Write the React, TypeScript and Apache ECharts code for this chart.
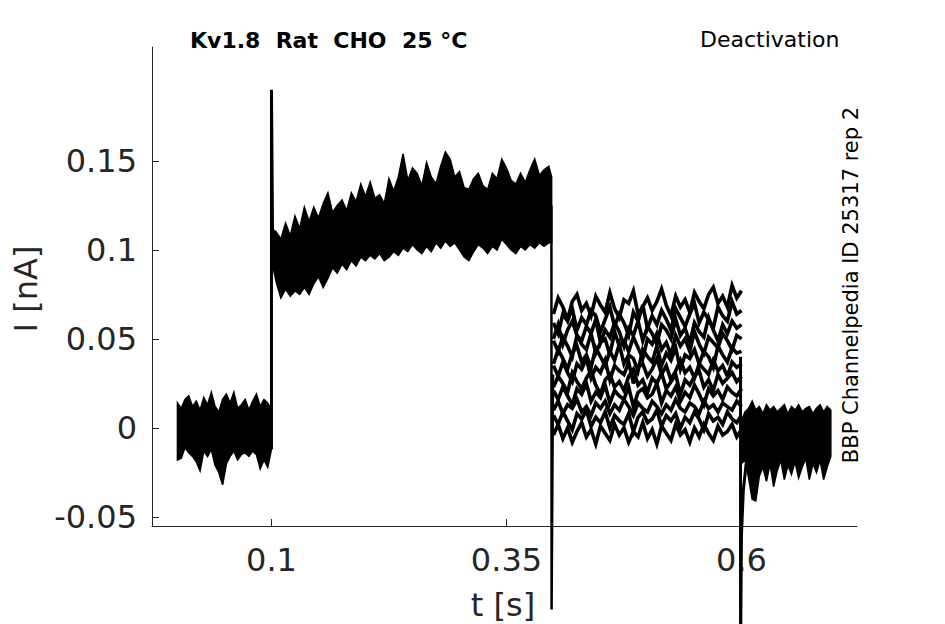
import React, { useEffect, useRef } from "react";
import * as echarts from "echarts";

// ---------- texts ----------
const TITLE = "Kv1.8  Rat  CHO  25 °C";
const PROTOCOL = "Deactivation";
const SOURCE = "BBP Channelpedia ID 25317 rep 2";
const X_NAME = "t [s]";
const Y_NAME = "I [nA]";

// ---------- axis ticks ----------
const xTicks = [0.1, 0.35, 0.6];
const yTicks = [-0.05, 0, 0.05, 0.1, 0.15];

// ---------- holding baseline (t = 0 .. 0.1, every 4 ms): envelope of all sweeps ----------
const baseStart = 0;
const baseStep = 0.004;
const baseUpper = [0.014, 0.011, 0.016, 0.018, 0.012, 0.015, 0.010, 0.017, 0.013, 0.020, 0.012, 0.009, 0.016,
  0.019, 0.014, 0.020, 0.011, 0.013, 0.016, 0.010, 0.015, 0.019, 0.012, 0.016, 0.014, 0.010];
const baseLower = [-0.018, -0.017, -0.011, -0.014, -0.016, -0.019, -0.024, -0.013, -0.016, -0.012, -0.021, -0.025,
  -0.032, -0.020, -0.016, -0.013, -0.018, -0.015, -0.014, -0.016, -0.013, -0.015, -0.023, -0.018, -0.022, -0.012];

// ---------- activation step (t = 0.1 .. 0.395 every 5 ms, then 0.398): envelope ----------
const actStart = 0.1;
const actStep = 0.005;
const actLast = 0.398;
const actUpper = [0.112, 0.110, 0.106, 0.115, 0.108, 0.119, 0.112, 0.124, 0.116, 0.124, 0.118, 0.126, 0.132, 0.121,
  0.125, 0.128, 0.122, 0.132, 0.127, 0.137, 0.130, 0.138, 0.129, 0.131, 0.126, 0.140, 0.133, 0.141, 0.154, 0.139,
  0.146, 0.143, 0.136, 0.149, 0.141, 0.137, 0.147, 0.155, 0.151, 0.141, 0.144, 0.135, 0.134, 0.140, 0.143, 0.136,
  0.134, 0.143, 0.140, 0.151, 0.146, 0.139, 0.137, 0.143, 0.138, 0.145, 0.151, 0.142, 0.145, 0.147, 0.141];
const actLower = [0.095, 0.082, 0.073, 0.078, 0.074, 0.077, 0.075, 0.079, 0.075, 0.081, 0.085, 0.079, 0.084, 0.090,
  0.087, 0.092, 0.089, 0.094, 0.091, 0.096, 0.094, 0.097, 0.095, 0.098, 0.094, 0.096, 0.099, 0.097, 0.101, 0.099,
  0.103, 0.100, 0.098, 0.102, 0.099, 0.104, 0.101, 0.105, 0.102, 0.104, 0.100, 0.096, 0.094, 0.099, 0.103, 0.101,
  0.098, 0.102, 0.100, 0.106, 0.103, 0.100, 0.098, 0.102, 0.100, 0.103, 0.101, 0.104, 0.102, 0.104, 0.104];

// ---------- deactivation tails (t = 0.4 .. 0.6 every 5 ms): individual sweeps ----------
const deactStart = 0.4;
const deactStep = 0.005;
const tail1 = [0.064, 0.073, 0.068, 0.061, 0.071, 0.075, 0.066, 0.070, 0.063, 0.074, 0.069, 0.065, 0.076, 0.067,
  0.062, 0.072, 0.070, 0.077, 0.064, 0.068, 0.073, 0.066, 0.071, 0.078, 0.069, 0.063, 0.074, 0.068, 0.072, 0.065,
  0.076, 0.071, 0.067, 0.075, 0.079, 0.070, 0.074, 0.068, 0.080, 0.073, 0.077];
const tail2 = [0.059, 0.053, 0.064, 0.060, 0.067, 0.055, 0.062, 0.058, 0.066, 0.063, 0.054, 0.061, 0.068, 0.057,
  0.064, 0.059, 0.052, 0.065, 0.060, 0.069, 0.056, 0.063, 0.058, 0.066, 0.061, 0.055, 0.067, 0.062, 0.057, 0.064,
  0.070, 0.059, 0.065, 0.061, 0.056, 0.068, 0.063, 0.060, 0.071, 0.064, 0.066];
const tail3 = [0.050, 0.058, 0.047, 0.055, 0.060, 0.052, 0.049, 0.057, 0.053, 0.061, 0.048, 0.055, 0.051, 0.059,
  0.054, 0.046, 0.056, 0.052, 0.060, 0.049, 0.057, 0.053, 0.047, 0.058, 0.055, 0.050, 0.061, 0.052, 0.056, 0.048,
  0.059, 0.054, 0.051, 0.062, 0.055, 0.049, 0.058, 0.053, 0.060, 0.056, 0.058];
const tail4 = [0.049, 0.043, 0.051, 0.046, 0.040, 0.052, 0.047, 0.044, 0.053, 0.042, 0.048, 0.050, 0.041, 0.054,
  0.046, 0.049, 0.043, 0.051, 0.045, 0.039, 0.050, 0.047, 0.053, 0.044, 0.048, 0.041, 0.052, 0.046, 0.050, 0.043,
  0.054, 0.047, 0.042, 0.051, 0.048, 0.045, 0.053, 0.049, 0.044, 0.052, 0.050];
const tail5 = [0.036, 0.044, 0.039, 0.033, 0.042, 0.046, 0.037, 0.041, 0.034, 0.045, 0.040, 0.035, 0.043, 0.038,
  0.047, 0.036, 0.041, 0.039, 0.032, 0.044, 0.040, 0.037, 0.046, 0.035, 0.042, 0.038, 0.045, 0.033, 0.041, 0.039,
  0.044, 0.036, 0.043, 0.040, 0.034, 0.046, 0.041, 0.037, 0.045, 0.042, 0.043];
const tail6 = [0.035, 0.029, 0.037, 0.031, 0.026, 0.036, 0.033, 0.039, 0.028, 0.034, 0.031, 0.038, 0.027, 0.035,
  0.032, 0.030, 0.037, 0.025, 0.034, 0.036, 0.029, 0.033, 0.039, 0.030, 0.035, 0.027, 0.032, 0.038, 0.031, 0.034,
  0.028, 0.036, 0.033, 0.030, 0.038, 0.032, 0.035, 0.029, 0.037, 0.034, 0.036];
const tail7 = [0.023, 0.029, 0.025, 0.020, 0.031, 0.026, 0.022, 0.028, 0.032, 0.024, 0.019, 0.027, 0.030, 0.023,
  0.026, 0.021, 0.029, 0.033, 0.024, 0.027, 0.020, 0.028, 0.025, 0.031, 0.022, 0.026, 0.030, 0.019, 0.027, 0.024,
  0.029, 0.032, 0.023, 0.027, 0.021, 0.030, 0.025, 0.028, 0.031, 0.026, 0.029];
const tail8 = [0.021, 0.016, 0.023, 0.018, 0.013, 0.022, 0.019, 0.025, 0.015, 0.020, 0.017, 0.024, 0.014, 0.021,
  0.018, 0.016, 0.023, 0.012, 0.020, 0.022, 0.017, 0.019, 0.025, 0.014, 0.021, 0.018, 0.023, 0.015, 0.020, 0.017,
  0.024, 0.019, 0.013, 0.022, 0.018, 0.021, 0.016, 0.023, 0.020, 0.018, 0.022];
const tail9 = [0.010, 0.015, 0.008, 0.013, 0.011, 0.016, 0.009, 0.012, 0.007, 0.014, 0.011, 0.015, 0.008, 0.013,
  0.010, 0.016, 0.012, 0.007, 0.014, 0.011, 0.009, 0.015, 0.012, 0.008, 0.013, 0.010, 0.016, 0.011, 0.009, 0.014,
  0.012, 0.008, 0.015, 0.011, 0.013, 0.009, 0.014, 0.012, 0.010, 0.015, 0.012];
const tail10 = [0.007, 0.002, 0.009, 0.004, -0.001, 0.008, 0.005, 0.010, 0.001, 0.006, 0.003, 0.009, 0.000, 0.007,
  0.004, 0.002, 0.008, -0.002, 0.006, 0.009, 0.003, 0.005, 0.010, 0.001, 0.007, 0.004, 0.008, 0.000, 0.006, 0.003,
  0.009, 0.005, -0.001, 0.008, 0.004, 0.006, 0.002, 0.009, 0.005, 0.003, 0.007];
const tail11 = [-0.004, 0.002, -0.006, 0.000, -0.008, -0.002, 0.003, -0.005, -0.001, -0.009, 0.001, -0.003, -0.007,
  0.002, -0.004, 0.000, -0.008, -0.002, -0.005, 0.003, -0.006, -0.001, -0.009, 0.001, -0.003, -0.007, 0.002, -0.004,
  -0.001, -0.008, 0.000, -0.005, 0.002, -0.003, -0.007, 0.001, -0.004, -0.002, 0.002, -0.005, -0.001];
const tails = [tail1, tail2, tail3, tail4, tail5, tail6, tail7, tail8, tail9, tail10, tail11];

// ---------- return to holding (t = 0.6 .. ~0.695 every 3.8 ms): envelope ----------
const endStart = 0.6;
const endStep = 0.0038;
const endUpper = [0.004, 0.009, 0.011, 0.015, 0.010, 0.012, 0.008, 0.013, 0.010, 0.012, 0.009, 0.011, 0.013,
  0.008, 0.012, 0.010, 0.013, 0.009, 0.011, 0.012, 0.008, 0.011, 0.013, 0.009, 0.012, 0.010];
const endLower = [-0.020, -0.018, -0.028, -0.040, -0.041, -0.027, -0.022, -0.030, -0.020, -0.033, -0.024, -0.018,
  -0.029, -0.021, -0.026, -0.019, -0.028, -0.022, -0.017, -0.029, -0.020, -0.025, -0.018, -0.029, -0.022, -0.016];

// ---------- capacitive transients at the voltage steps ----------
const spikeOn: number[][] = [[0.1, -0.012], [0.1, 0.19], [0.1012, 0.105]];
const spikeTail: number[][] = [[0.3978, 0.125], [0.398, -0.102], [0.3995, 0.03]];
const spikeOff: number[][] = [[0.599, 0.04], [0.599, -0.13], [0.6, -0.06], [0.602, -0.035], [0.605, -0.02]];

const FONT = "DejaVu Sans";
const AXIS_COLOR = "#262626";

function sampleTimes(start: number, step: number, n: number): number[] {
  const out: number[] = [];
  for (let i = 0; i < n; i++) out.push(+(start + i * step).toFixed(4));
  return out;
}

function bandSeries(times: number[], lower: number[], upper: number[]) {
  return {
    type: "custom",
    coordinateSystem: "cartesian2d",
    silent: true,
    clip: false,
    data: times.map((t, i) => [t, lower[i], upper[i]]),
    encode: { x: 0, y: [1, 2] },
    renderItem: (params: any, api: any) => {
      if (params.dataIndex !== 0) return null;
      const top = times.map((t, i) => api.coord([t, upper[i]]));
      const bot = times.map((t, i) => api.coord([t, lower[i]])).reverse();
      return {
        type: "polygon",
        shape: { points: top.concat(bot) },
        style: { fill: "#000", stroke: "#000", lineWidth: 1.6, lineJoin: "miter" },
      };
    },
  };
}

function lineSeries(data: number[][], width: number) {
  return {
    type: "line",
    data,
    showSymbol: false,
    symbol: "none",
    silent: true,
    clip: false,
    lineStyle: { color: "#000", width, join: "miter" },
  };
}

export default function App() {
  const ref = useRef<HTMLDivElement>(null);

  useEffect(() => {
    if (!ref.current) return;
    const chart = echarts.init(ref.current, undefined, { renderer: "svg" });

    const baseT = sampleTimes(baseStart, baseStep, baseUpper.length);
    const actT = sampleTimes(actStart, actStep, actUpper.length - 1).concat([actLast]);
    const deactT = sampleTimes(deactStart, deactStep, tail1.length);
    const endT = sampleTimes(endStart, endStep, endUpper.length);

    const series: any[] = [
      bandSeries(baseT, baseLower, baseUpper),
      bandSeries(actT, actLower, actUpper),
      bandSeries(endT, endLower, endUpper),
      ...tails.map((tr) => lineSeries(deactT.map((t, i) => [t, tr[i]]), 3.6)),
      lineSeries(spikeOn, 3),
      lineSeries(spikeTail, 2.5),
      lineSeries(spikeOff, 3),
    ];

    chart.setOption({
      animation: false,
      backgroundColor: "#fff",
      grid: { left: 152, right: 88, top: 47, bottom: 98, containLabel: false },
      xAxis: {
        type: "value",
        min: -0.0271,
        max: 0.7229,
        splitLine: { show: false },
        axisLine: { onZero: false, lineStyle: { color: AXIS_COLOR, width: 1 } },
        axisTick: { inside: true, length: 7, customValues: xTicks, lineStyle: { color: AXIS_COLOR } },
        axisLabel: {
          customValues: xTicks,
          formatter: (v: number) => String(v),
          color: AXIS_COLOR,
          fontSize: 32,
          fontFamily: FONT,
          margin: 18,
        },
      },
      yAxis: {
        type: "value",
        min: -0.0551,
        max: 0.214,
        splitLine: { show: false },
        axisLine: { onZero: false, lineStyle: { color: AXIS_COLOR, width: 1 } },
        axisTick: { inside: true, length: 7, customValues: yTicks, lineStyle: { color: AXIS_COLOR } },
        axisLabel: {
          customValues: yTicks,
          formatter: (v: number) => String(v),
          color: AXIS_COLOR,
          fontSize: 32,
          fontFamily: FONT,
          margin: 15,
        },
      },
      graphic: [
        {
          type: "text",
          x: 190,
          y: 40,
          style: {
            text: TITLE,
            fill: "#000",
            fontSize: 22,
            fontWeight: "bold",
            fontFamily: FONT,
            align: "left",
            verticalAlign: "middle",
            textAlign: "left",
            textVerticalAlign: "middle",
          },
        },
        {
          type: "text",
          x: 700,
          y: 39,
          style: {
            text: PROTOCOL,
            fill: "#000",
            fontSize: 22,
            fontFamily: FONT,
            align: "left",
            verticalAlign: "middle",
            textAlign: "left",
            textVerticalAlign: "middle",
          },
        },
        {
          type: "text",
          x: 851,
          y: 285,
          rotation: Math.PI / 2,
          style: {
            text: SOURCE,
            fill: "#000",
            fontSize: 21,
            fontFamily: FONT,
            align: "center",
            verticalAlign: "middle",
            textAlign: "center",
            textVerticalAlign: "middle",
          },
        },
        {
          type: "text",
          x: 26,
          y: 289,
          rotation: Math.PI / 2,
          style: {
            text: Y_NAME,
            fill: AXIS_COLOR,
            fontSize: 32,
            fontFamily: FONT,
            align: "center",
            verticalAlign: "middle",
            textAlign: "center",
            textVerticalAlign: "middle",
          },
        },
        {
          type: "text",
          x: 503,
          y: 605,
          style: {
            text: X_NAME,
            fill: AXIS_COLOR,
            fontSize: 32,
            fontFamily: FONT,
            align: "center",
            verticalAlign: "middle",
            textAlign: "center",
            textVerticalAlign: "middle",
          },
        },
      ],
      series,
    });

    return () => chart.dispose();
  }, []);

  return (
    <div
      ref={ref}
      style={{ position: "absolute", left: 0, top: 0, width: 945, height: 624, background: "#fff" }}
    />
  );
}
